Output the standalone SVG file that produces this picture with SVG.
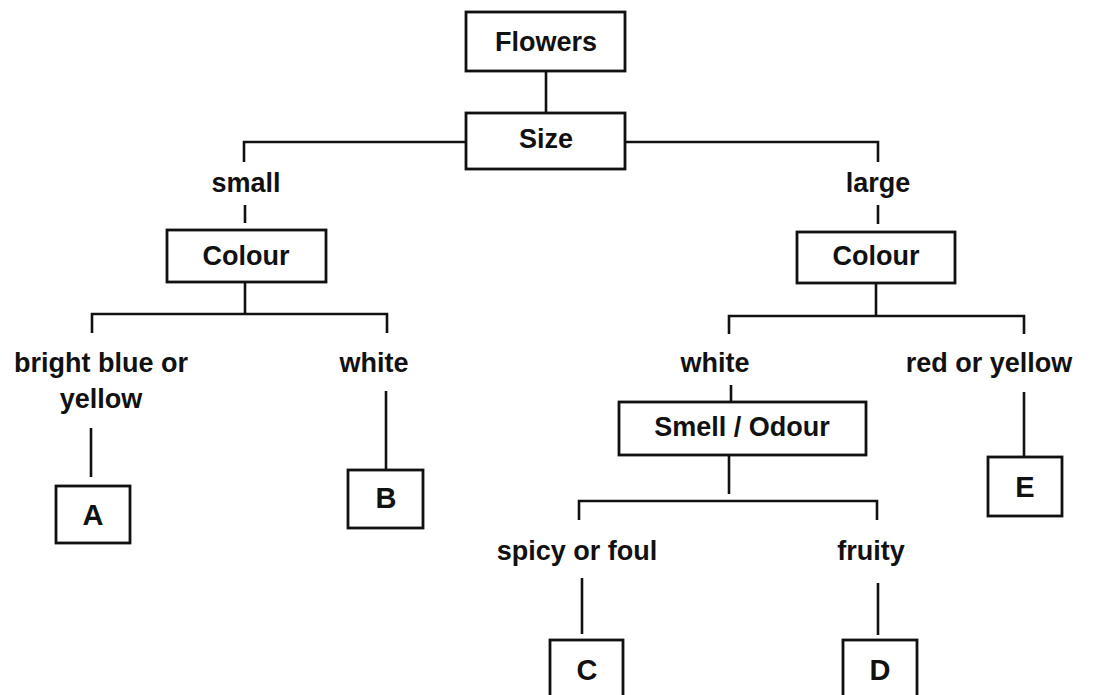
<svg xmlns="http://www.w3.org/2000/svg" width="1102" height="695" viewBox="0 0 1102 695">
<style>
.box{fill:none;stroke:#111;stroke-width:2.8}
.ln{fill:none;stroke:#111;stroke-width:2.6}
text{font-family:"Liberation Sans",Arial,sans-serif;font-weight:bold;font-size:27px;fill:#111;text-anchor:middle}
.big{font-size:29px}
</style>
<rect width="1102" height="695" fill="#fff"/>
<g id="connectors">
<path class="ln" d="M546,71 V112"/>
<path class="ln" d="M466,142 H244 V162"/>
<path class="ln" d="M625,142 H878 V162"/>
<path class="ln" d="M245,205 V223"/>
<path class="ln" d="M878,205 V224"/>
<path class="ln" d="M245,282 V314"/>
<path class="ln" d="M92,333 V314 H387 V333"/>
<path class="ln" d="M91,428 V477"/>
<path class="ln" d="M386,391 V470"/>
<path class="ln" d="M876,283 V316"/>
<path class="ln" d="M729,334 V316 H1024 V334"/>
<path class="ln" d="M731,385 V402"/>
<path class="ln" d="M1024,392 V457"/>
<path class="ln" d="M729,455 V494"/>
<path class="ln" d="M579,520 V501 H877 V520"/>
<path class="ln" d="M582,578 V634"/>
<path class="ln" d="M878,583 V635"/>
</g>
<g id="flowers"><rect class="box" x="466" y="12" width="159" height="59"/><text x="546" y="51">Flowers</text></g>
<g id="size"><rect class="box" x="466" y="113" width="159" height="56"/><text x="546" y="148">Size</text></g>
<g id="lbl-small"><text x="246" y="192">small</text></g>
<g id="lbl-large"><text x="878" y="192">large</text></g>
<g id="colour-left"><rect class="box" x="167" y="230" width="159" height="52"/><text x="246" y="265">Colour</text></g>
<g id="colour-right"><rect class="box" x="797" y="232" width="158" height="51"/><text x="876" y="265">Colour</text></g>
<g id="lbl-bright"><text x="101" y="372">bright blue or</text><text x="101" y="408">yellow</text></g>
<g id="lbl-white-left"><text x="374" y="372">white</text></g>
<g id="lbl-white-right"><text x="715" y="372">white</text></g>
<g id="lbl-redyellow"><text x="989" y="372">red or yellow</text></g>
<g id="smell"><rect class="box" x="619" y="402" width="247" height="53"/><text x="742" y="436">Smell / Odour</text></g>
<g id="lbl-spicy"><text x="577" y="560">spicy or foul</text></g>
<g id="lbl-fruity"><text x="871" y="560">fruity</text></g>
<g id="A"><rect class="box" x="56" y="486" width="74" height="57"/><text class="big" x="93" y="525">A</text></g>
<g id="B"><rect class="box" x="348" y="470" width="75" height="58"/><text class="big" x="386" y="508">B</text></g>
<g id="E"><rect class="box" x="988" y="457" width="74" height="59"/><text class="big" x="1025" y="497">E</text></g>
<g id="C"><rect class="box" x="550" y="640" width="73" height="60"/><text class="big" x="587" y="680">C</text></g>
<g id="D"><rect class="box" x="843" y="640" width="74" height="60"/><text class="big" x="880" y="680">D</text></g>
</svg>
